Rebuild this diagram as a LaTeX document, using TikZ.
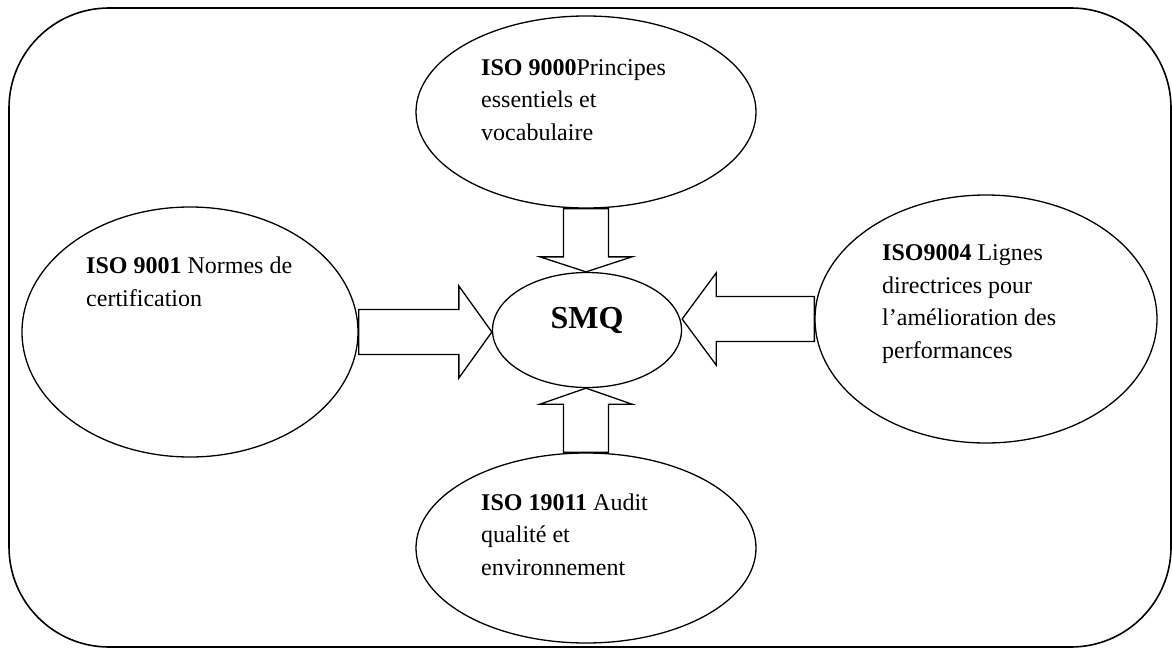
\documentclass[tikz,border=0pt]{standalone}
\usepackage{fontspec}
\setmainfont{Liberation Serif}
\usepackage{tikz}
\usetikzlibrary{positioning}
\usetikzlibrary{shapes.geometric}
\usetikzlibrary{calc}

% block arrow from #1 (tail) to #2 (tip), head length #3
\newcommand{\blockarrow}[3]{%
  \coordinate (neck) at ($(#2)!#3!(#1)$);
  \draw[arrowline] ($(#1)!22.5pt!90:(#2)$) -- ($(neck)!22.5pt!90:(#2)$) -- ($(neck)!46pt!90:(#2)$) -- (#2)
    -- ($(neck)!46pt!-90:(#2)$) -- ($(neck)!22.5pt!-90:(#2)$) -- ($(#1)!22.5pt!-90:(#2)$) -- cycle;
}

\begin{document}
\begin{tikzpicture}[x=1pt, y=-1pt,
        bubble/.style = {draw, ellipse, inner sep=0pt, line width=1.3pt},
        desc/.style = {anchor=base west, align=left, inner sep=0pt, font=\fontsize{24}{32.5}\selectfont},
        arrowline/.style = {line width=1.3pt, line join=miter}
        ]
        \useasboundingbox (0,0) rectangle (1172,650);
        \draw[line width=1.6pt, rounded corners=100pt] (9,8) rectangle (1171,647);

        \node[bubble, minimum width=340, minimum height=192] (iso9000) at (586,112) {};
        \node[bubble, minimum width=336, minimum height=250] (iso9001) at (190,332) {};
        \node[bubble, minimum width=342, minimum height=248] (iso9004) at (986,319) {};
        \node[bubble, minimum width=340, minimum height=190] (iso19011) at (586,548) {};
        \node[bubble, minimum width=189, minimum height=115] (smq) at (587,330) {};

        % base = last line
        \node[desc] (t9000) at (481,140) {\textbf{ISO 9000}Principes\\essentiels et\\vocabulaire};
        \node[desc] (t9001) at (86,306) {\textbf{ISO 9001} Normes de\\certification};
        \node[desc] (t9004) at (882,358) {\textbf{ISO9004} Lignes\\directrices pour\\l’amélioration des\\performances};
        \node[desc] (t19011) at (481,575) {\textbf{ISO 19011} Audit\\qualité et\\environnement};
        \node[anchor=base, inner sep=0pt, font=\fontsize{32}{38}\selectfont\bfseries] (tsmq) at (587,328) {SMQ};

        \coordinate (tipl) at (smq.west |- iso9001.east);
        \coordinate (tipr) at (smq.east |- iso9004.west);
        \coordinate (tipt) at (smq.north -| iso9000.south);
        \coordinate (tipb) at (smq.south -| iso19011.north);
        \blockarrow{iso9001.east}{tipl}{33pt}
        \blockarrow{iso9004.west}{tipr}{34pt}
        \blockarrow{iso9000.south}{tipt}{15pt}
        \blockarrow{iso19011.north}{tipb}{16pt}
\end{tikzpicture}
\end{document}
